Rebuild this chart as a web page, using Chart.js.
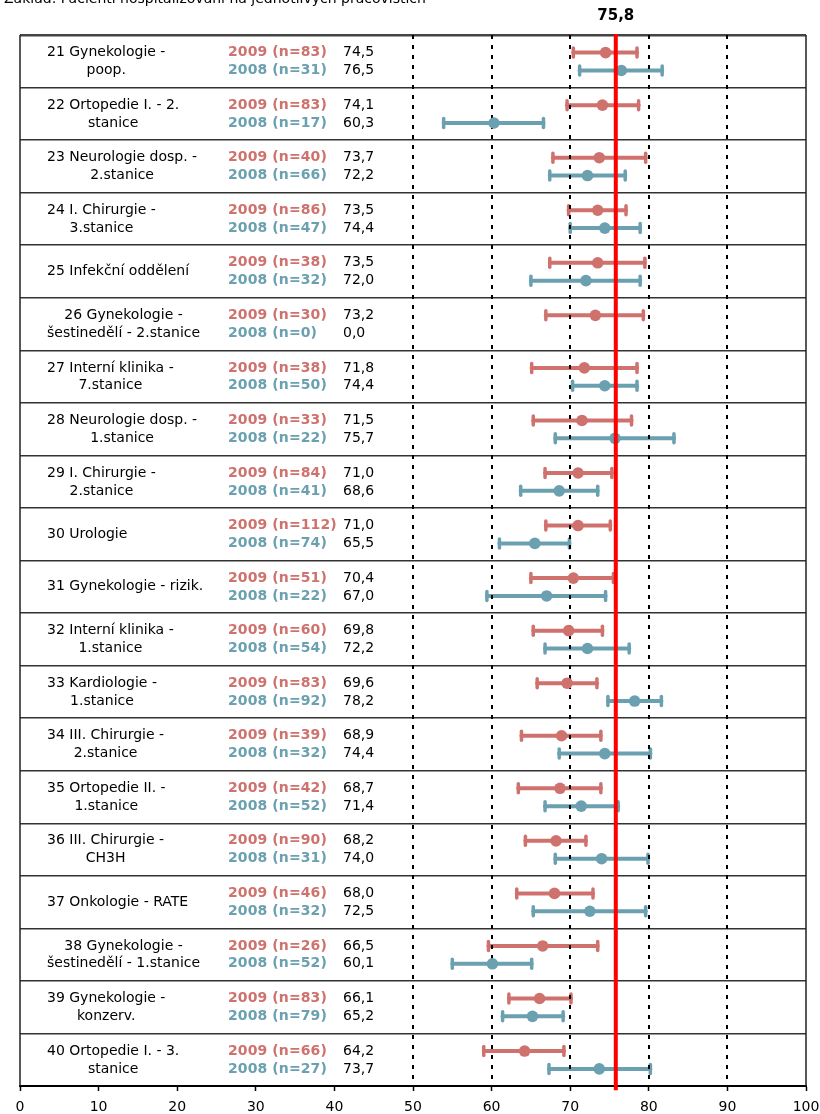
<!DOCTYPE html>
<html>
<head>
<meta charset="utf-8">
<script src="https://cdn.jsdelivr.net/npm/chart.js@4.4.1/dist/chart.umd.min.js"></script>
<style>
  html, body { margin: 0; padding: 0; background: #fff; }
  #wrap { position: relative; width: 820px; height: 1114px; }
</style>
</head>
<body>
<div id="wrap"><canvas id="chart" width="820" height="1114"></canvas></div>
<script>
const title = "Základ: Pacienti hospitalizovaní na jednotlivých pracovištích"
const overall = 75.8

const departments = [
  ["21 Gynekologie -", "poop."],
  ["22 Ortopedie I. - 2.", "stanice"],
  ["23 Neurologie dosp. -", "2.stanice"],
  ["24 I. Chirurgie -", "3.stanice"],
  ["25 Infekční oddělení"],
  ["26 Gynekologie -", "šestinedělí - 2.stanice"],
  ["27 Interní klinika -", "7.stanice"],
  ["28 Neurologie dosp. -", "1.stanice"],
  ["29 I. Chirurgie -", "2.stanice"],
  ["30 Urologie"],
  ["31 Gynekologie - rizik."],
  ["32 Interní klinika -", "1.stanice"],
  ["33 Kardiologie -", "1.stanice"],
  ["34 III. Chirurgie -", "2.stanice"],
  ["35 Ortopedie II. -", "1.stanice"],
  ["36 III. Chirurgie -", "CH3H"],
  ["37 Onkologie - RATE"],
  ["38 Gynekologie -", "šestinedělí - 1.stanice"],
  ["39 Gynekologie -", "konzerv."],
  ["40 Ortopedie I. - 3.", "stanice"]
]

const n2009 = [83, 83, 40, 86, 38, 30, 38, 33, 84, 112, 51, 60, 83, 39, 42, 90, 46, 26, 83, 66]
const mean2009 = [74.5, 74.1, 73.7, 73.5, 73.5, 73.2, 71.8, 71.5, 71.0, 71.0, 70.4, 69.8, 69.6, 68.9, 68.7, 68.2, 68.0, 66.5, 66.1, 64.2]
const low2009 = [70.4, 69.6, 67.8, 69.8, 67.4, 66.9, 65.1, 65.3, 66.8, 66.9, 65.0, 65.3, 65.8, 63.8, 63.4, 64.3, 63.2, 59.6, 62.2, 59.0]
const high2009 = [78.5, 78.7, 79.6, 77.1, 79.5, 79.3, 78.5, 77.8, 75.3, 75.1, 75.5, 74.1, 73.4, 73.9, 73.9, 72.0, 72.9, 73.5, 70.1, 69.2]

const n2008 = [31, 17, 66, 47, 32, 0, 50, 22, 41, 74, 22, 54, 92, 32, 52, 31, 32, 52, 79, 27]
const mean2008 = [76.5, 60.3, 72.2, 74.4, 72.0, 0.0, 74.4, 75.7, 68.6, 65.5, 67.0, 72.2, 78.2, 74.4, 71.4, 74.0, 72.5, 60.1, 65.2, 73.7]
const low2008 = [71.2, 53.9, 67.4, 70.0, 65.0, null, 70.3, 68.1, 63.7, 61.0, 59.4, 66.8, 74.8, 68.6, 66.8, 68.1, 65.3, 55.0, 61.4, 67.3]
const high2008 = [81.7, 66.6, 77.0, 78.9, 78.9, null, 78.5, 83.2, 73.5, 69.9, 74.5, 77.5, 81.6, 80.2, 76.1, 79.9, 79.6, 65.1, 69.1, 80.2]

const xTicks = [0, 10, 20, 30, 40, 50, 60, 70, 80, 90, 100]
const dottedAt = [50, 60, 70, 80, 90]

const RED = "#cf726e"
const BLUE = "#6aa0b0"
const FONT = "'DejaVu Sans', Verdana, sans-serif"
const UP = 0.165, DOWN = 0.175

Chart.defaults.font.family = FONT
Chart.defaults.font.size = 14
Chart.defaults.color = "#000"

const fmt = v => v.toFixed(1).replace(".", ",")

const pts2009 = mean2009.map((m, i) => ({ x: m, y: i + 0.5 - UP, lo: low2009[i], hi: high2009[i] }))
const pts2008 = mean2008
  .map((m, i) => ({ x: m, y: i + 0.5 + DOWN, lo: low2008[i], hi: high2008[i], n: n2008[i] }))
  .filter(p => p.n > 0)

// whiskers under the points
const errorBars = {
  id: "errorBars",
  beforeDatasetsDraw(chart) {
    const { ctx, scales: { x, y } } = chart
    chart.data.datasets.forEach(ds => {
      if (!ds.whiskers) return
      ctx.save()
      ctx.strokeStyle = ds.backgroundColor
      ctx.lineCap = "round"
      ds.data.forEach(p => {
        const py = y.getPixelForValue(p.y)
        const x1 = x.getPixelForValue(p.lo), x2 = x.getPixelForValue(p.hi)
        ctx.lineWidth = 4
        ctx.beginPath(); ctx.moveTo(x1, py); ctx.lineTo(x2, py); ctx.stroke()
        ctx.lineWidth = 3.5
        ;[x1, x2].forEach(cx => {
          ctx.beginPath(); ctx.moveTo(cx, py - 4.5); ctx.lineTo(cx, py + 4.5); ctx.stroke()
        })
      })
      ctx.restore()
    })
  }
}

// dotted verticals, frame and all the text around the plot
const decor = {
  id: "decor",
  beforeDatasetsDraw(chart) {
    const { ctx, chartArea: a, scales: { x } } = chart
    ctx.save()
    ctx.strokeStyle = "#000"
    ctx.lineWidth = 2
    ctx.setLineDash([4, 6])
    dottedAt.forEach(v => {
      const px = Math.round(x.getPixelForValue(v))
      ctx.beginPath(); ctx.moveTo(px, a.top); ctx.lineTo(px, a.bottom); ctx.stroke()
    })
    ctx.setLineDash([])
    ctx.strokeStyle = "#222"
    ctx.lineWidth = 1.5
    ctx.beginPath()
    ctx.moveTo(a.left, a.top); ctx.lineTo(a.left, a.bottom)
    ctx.moveTo(a.right, a.top); ctx.lineTo(a.right, a.bottom)
    ctx.stroke()
    ctx.restore()
  },
  afterDraw(chart) {
    const { ctx, scales: { x, y } } = chart
    ctx.save()
    ctx.fillStyle = "#000"
    ctx.font = "14px " + FONT
    ctx.textBaseline = "alphabetic"
    ctx.textAlign = "left"
    ctx.fillText(title, 4, 3)

    ctx.font = "bold 15px " + FONT
    ctx.textAlign = "center"
    ctx.textBaseline = "middle"
    ctx.fillText(fmt(overall), x.getPixelForValue(overall), 16)

    departments.forEach((lines, i) => {
      const yr = y.getPixelForValue(i + 0.5 - UP)
      const yb = y.getPixelForValue(i + 0.5 + DOWN)
      const yc = y.getPixelForValue(i + 0.5)

      ctx.font = "14px " + FONT
      ctx.fillStyle = "#000"
      const w = Math.max(...lines.map(t => ctx.measureText(t).width))
      ctx.textAlign = "center"
      if (lines.length === 1) {
        ctx.fillText(lines[0], 47 + w / 2, yc)
      } else {
        ctx.fillText(lines[0], 47 + w / 2, yr)
        ctx.fillText(lines[1], 47 + w / 2, yb)
      }

      ctx.textAlign = "left"
      ctx.fillText(fmt(mean2009[i]), 343, yr)
      ctx.fillText(fmt(mean2008[i]), 343, yb)

      ctx.font = "bold 14px " + FONT
      ctx.letterSpacing = "0.1px"
      ctx.fillStyle = RED
      ctx.fillText("2009 (n=" + n2009[i] + ")", 228, yr)
      ctx.fillStyle = BLUE
      ctx.fillText("2008 (n=" + n2008[i] + ")", 228, yb)
      ctx.letterSpacing = "0px"
    })
    ctx.restore()
  }
}

new Chart(document.getElementById("chart"), {
  type: "scatter",
  data: {
    datasets: [
      {
        label: "celkem",
        type: "line",
        data: [{ x: overall, y: -0.02 }, { x: overall, y: 20.08 }],
        borderColor: "#ff0000",
        borderWidth: 4,
        pointRadius: 0,
        clip: false,
        order: 0
      },
      {
        label: "2009",
        data: pts2009,
        backgroundColor: RED,
        borderWidth: 0,
        pointRadius: 5.8,
        whiskers: true,
        order: 1
      },
      {
        label: "2008",
        data: pts2008,
        backgroundColor: BLUE,
        borderWidth: 0,
        pointRadius: 5.8,
        whiskers: true,
        order: 1
      }
    ]
  },
  options: {
    responsive: false,
    animation: false,
    layout: { padding: { left: 20, right: 14, top: 35, bottom: 0 } },
    plugins: { legend: { display: false }, tooltip: { enabled: false } },
    scales: {
      x: {
        type: "linear",
        min: 0,
        max: 100,
        afterBuildTicks: s => { s.ticks = xTicks.map(v => ({ value: v })) },
        afterFit: s => { s.height = 28; s.paddingLeft = 0; s.paddingRight = 0 },
        ticks: { padding: 8, color: "#000", font: { size: 14 } },
        grid: { drawOnChartArea: false, drawTicks: true, tickLength: 5, tickColor: "#000", tickWidth: 1.5 },
        border: { color: "#000", width: 2 }
      },
      y: {
        type: "linear",
        min: 0,
        max: 20,
        reverse: true,
        afterFit: s => { s.width = 0; s.paddingTop = 0; s.paddingBottom = 0 },
        ticks: { display: false, stepSize: 1 },
        grid: {
          drawTicks: false,
          color: c => c.tick && c.tick.value === 0 ? "#444" : "#333",
          lineWidth: c => c.tick && c.tick.value === 0 ? 2.5 : 1.5
        },
        border: { display: false }
      }
    }
  },
  plugins: [errorBars, decor]
})
</script>
</body>
</html>
